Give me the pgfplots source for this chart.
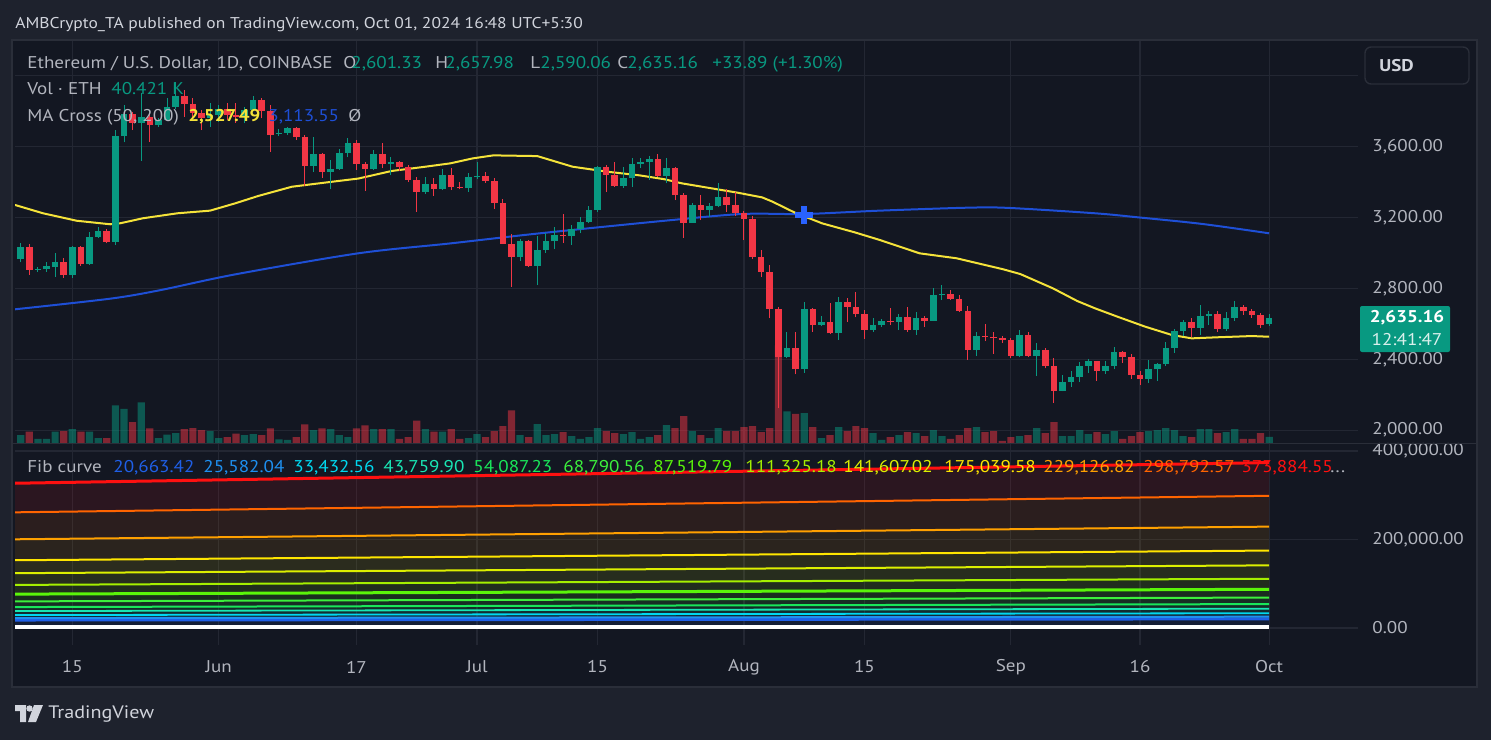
\documentclass[border=0pt]{standalone}
\usepackage{fontspec}
\setmainfont{PT Sans}[FakeStretch=1.12]
\usepackage{pgfplots}
\pgfplotsset{compat=1.18}
\usepackage{pgfplotstable}

\definecolor{bgout}{HTML}{1E222D}
\definecolor{bgin}{HTML}{131722}
\definecolor{gridc}{HTML}{232733}
\definecolor{framec}{HTML}{2A2E39}
\definecolor{txt}{HTML}{B2B5BE}
\definecolor{titlec}{HTML}{D1D4DC}
\definecolor{upc}{HTML}{089981}
\definecolor{dnc}{HTML}{F23645}
\definecolor{ma50}{HTML}{F5E33A}
\definecolor{ma200}{HTML}{1E4FD6}
\definecolor{crossc}{HTML}{2962FF}
\definecolor{f1}{HTML}{1F5FE6}
\definecolor{f2}{HTML}{1E90F0}
\definecolor{f3}{HTML}{00D8F0}
\definecolor{f4}{HTML}{19E6B4}
\definecolor{f5}{HTML}{19E65A}
\definecolor{f6}{HTML}{3CF03C}
\definecolor{f7}{HTML}{5AF50A}
\definecolor{f8}{HTML}{A5F000}
\definecolor{f9}{HTML}{DCF000}
\definecolor{f10}{HTML}{FFE600}
\definecolor{f11}{HTML}{FFA000}
\definecolor{f12}{HTML}{FF6400}
\definecolor{f13}{HTML}{FF1010}

\newcommand{\lbl}{\fontsize{8.5}{10}\selectfont}

% daily candles, ETH/USD, May 9 (i=0) to Oct 1 (i=145); V in thousand ETH
\pgfplotstableread{
i O H L C V
0 2966 3058 2947 3035 52
2 2906 2920 2892 2912 28
3 2907 2950 2894 2926 28
4 2923 2998 2866 2949 72
6 2877 3039 2860 3034 88
8 2939 3116 2934 3090 72
9 3090 3146 3085 3124 34
11 3062 3694 3045 3660 232
12 3660 3835 3624 3785 210
14 3735 3901 3521 3765 250
16 3722 3764 3713 3750 34
17 3750 3877 3745 3826 54
18 3826 3967 3810 3888 64
22 3760 3845 3713 3780 76
23 3780 3835 3740 3815 34
26 3765 3826 3732 3807 52
27 3807 3888 3800 3864 58
30 3672 3698 3660 3680 26
31 3680 3710 3668 3707 22
34 3493 3657 3459 3559 82
36 3459 3525 3359 3474 88
37 3474 3587 3468 3564 52
38 3564 3647 3540 3623 40
41 3474 3581 3468 3559 88
43 3502 3540 3440 3512 88
47 3346 3427 3333 3389 88
49 3363 3472 3355 3438 72
52 3365 3450 3345 3427 34
53 3427 3514 3416 3435 58
58 2979 3079 2957 3066 52
60 2928 3096 2819 3017 118
61 3017 3111 3002 3066 52
62 3066 3145 3022 3101 58
64 3095 3158 3047 3133 46
65 3133 3203 3111 3175 28
66 3175 3265 3167 3243 40
67 3243 3491 3231 3483 94
70 3378 3483 3367 3423 58
71 3423 3536 3374 3502 70
72 3502 3534 3480 3514 28
73 3514 3547 3412 3530 40
75 3435 3536 3393 3478 112
78 3171 3280 3171 3271 76
80 3243 3284 3201 3267 34
81 3267 3393 3258 3316 94
89 2414 2554 2405 2463 196
91 2343 2721 2324 2684 184
93 2593 2644 2588 2608 34
95 2546 2753 2509 2721 100
99 2567 2635 2556 2593 64
100 2593 2627 2584 2617 22
102 2611 2653 2566 2638 52
104 2566 2667 2537 2633 64
106 2618 2800 2615 2763 82
107 2763 2819 2734 2769 46
111 2452 2554 2418 2531 100
116 2418 2565 2410 2537 46
118 2418 2490 2305 2452 94
121 2221 2311 2218 2271 46
122 2271 2334 2245 2300 46
123 2300 2384 2271 2362 82
124 2362 2403 2324 2390 58
126 2334 2390 2317 2362 58
127 2362 2471 2343 2441 76
131 2288 2396 2268 2343 76
132 2343 2381 2279 2373 82
133 2373 2497 2364 2463 94
134 2463 2571 2437 2560 82
135 2560 2620 2531 2610 46
137 2578 2704 2537 2644 88
138 2644 2672 2593 2655 88
140 2571 2667 2561 2633 70
141 2633 2729 2616 2695 88
145 2601.33 2657.98 2590.06 2635.16 40.4
}\uptab

\pgfplotstableread{
i O H L C V
1 3034 3050 2877 2904 72
5 2949 2973 2860 2877 76
7 3034 3041 2928 2939 72
10 3124 3135 3054 3062 34
13 3785 3798 3694 3735 130
15 3765 3785 3628 3722 92
19 3888 3920 3770 3842 88
20 3842 3873 3760 3792 94
21 3792 3807 3694 3760 82
24 3815 3845 3751 3780 40
25 3780 3845 3735 3765 60
28 3864 3877 3760 3803 52
29 3803 3835 3572 3666 92
32 3707 3713 3638 3657 40
33 3657 3666 3378 3493 116
35 3559 3562 3425 3459 92
39 3623 3638 3468 3502 92
40 3502 3512 3352 3474 110
42 3559 3623 3478 3502 88
44 3512 3521 3465 3483 28
45 3483 3497 3400 3412 40
46 3412 3427 3233 3346 140
48 3389 3421 3322 3363 72
50 3438 3478 3355 3371 88
51 3371 3399 3359 3365 28
54 3435 3457 3397 3408 40
55 3408 3423 3250 3284 76
56 3284 3303 3050 3051 106
57 3051 3107 2810 2979 202
59 3066 3073 2923 2928 40
63 3101 3220 3056 3095 70
68 3483 3497 3344 3442 76
69 3442 3514 3374 3378 64
74 3530 3559 3427 3435 52
76 3478 3484 3299 3327 94
77 3327 3337 3086 3171 166
79 3271 3327 3186 3243 52
82 3316 3359 3233 3271 76
83 3271 3344 3209 3228 76
84 3228 3239 3073 3194 100
85 3194 3210 2964 2979 106
86 2979 3015 2863 2894 70
87 2894 2930 2631 2686 94
88 2686 2693 2123 2414 596
90 2463 2554 2315 2343 180
92 2684 2690 2556 2593 100
94 2608 2719 2542 2546 52
96 2721 2744 2612 2697 76
97 2697 2782 2637 2655 106
98 2655 2680 2516 2567 94
101 2617 2691 2593 2611 40
103 2638 2695 2556 2566 70
105 2633 2644 2584 2618 46
108 2769 2791 2734 2742 28
109 2742 2761 2669 2674 52
110 2674 2700 2396 2452 94
112 2531 2599 2503 2525 70
113 2525 2554 2430 2519 76
114 2519 2531 2494 2509 16
115 2509 2518 2405 2418 40
117 2537 2554 2414 2418 52
119 2452 2463 2349 2362 64
120 2362 2407 2155 2221 130
125 2390 2392 2279 2334 70
128 2441 2445 2381 2413 28
129 2413 2429 2290 2311 46
130 2311 2334 2256 2288 70
136 2610 2633 2527 2578 40
139 2655 2672 2556 2571 64
142 2695 2706 2650 2672 28
143 2672 2684 2635 2650 28
144 2650 2661 2578 2593 64
}\dntab

\pgfplotsset{
  pane/.style={scale only axis, anchor=north west, width=671.5pt,
    xmin=-0.66, xmax=155.32, axis line style={draw=none},
    tick style={draw=none}, major tick length=0pt, clip=true},
  gridpane/.style={pane, grid=major,
    major grid style={draw=gridc, line width=0.6pt},
    xtick={6,23,39,53,67,84,98,115,130,145},
    scaled y ticks=false, yticklabel pos=right,
    yticklabel style={anchor=west, xshift=7pt, inner sep=0pt, font=\lbl, text=txt}},
  wick/.style={draw=none, mark=none, forget plot,
    error bars/.cd, y dir=plus, y explicit, error mark=none,
    error bar style={line width=0.5pt, draw=#1}},
  body/.style={draw=none, mark=none, forget plot,
    error bars/.cd, y dir=plus, y explicit, error mark=none,
    error bar style={line width=3.3pt, draw=#1}},
}

\begin{document}
\begin{tikzpicture}
\fill[bgout] (0,0) rectangle (745.5pt,-370pt);
\fill[bgin] (6pt,-20pt) rectangle (738.5pt,-343.5pt);
\draw[framec, line width=1pt] (6pt,-20pt) rectangle (738.5pt,-343.5pt);

% price pane: grid and price scale
\begin{axis}[gridpane, at={(7.5pt,-20.5pt)}, height=201.3pt,
  ymin=1923.7, ymax=4196.7, xticklabels={},
  ytick={2000,2400,2800,3200,3600,4000},
  yticklabels={{2,000.00},{2,400.00},{2,800.00},{3,200.00},{3,600.00},{}}]
\addplot[draw=none] coordinates {(0,3000)};
\end{axis}

% volume overlay
\begin{axis}[pane, hide axis, at={(7.5pt,-20.5pt)}, height=201.3pt,
  ymin=0, ymax=2440]
\addplot[ybar, bar shift=0pt, bar width=3.6pt, fill=upc, fill opacity=0.5, draw=none]
  table[x=i, y=V] {\uptab};
\addplot[ybar, bar shift=0pt, bar width=3.6pt, fill=dnc, fill opacity=0.5, draw=none]
  table[x=i, y=V] {\dntab};
\end{axis}

% candles and moving averages
\begin{axis}[pane, hide axis, at={(7.5pt,-20.5pt)}, height=201.3pt,
  ymin=1923.7, ymax=4196.7]
\addplot[ma200, line width=1pt, smooth] coordinates {
(-0.66,2682) (10.4,2742) (16.2,2790) (24.9,2879) (39.2,2998) (49.9,3054)
(60.3,3111) (74.8,3182) (83.8,3220) (91.1,3220) (99.8,3239) (110.3,3256)
(114.9,3254) (124.8,3224) (129.8,3201) (137.2,3164) (145,3111)};
\addplot[ma50, line width=1pt] coordinates {
(-0.66,3271) (2.6,3224) (6.5,3182) (10.4,3162) (11.5,3167) (14.2,3196)
(18.2,3224) (22.0,3239) (24.9,3280) (27.6,3322) (31.5,3374) (35.3,3397)
(39.2,3420) (43.1,3463) (47.0,3487) (49.9,3506) (52.5,3534) (54.9,3551)
(60.0,3547) (64.1,3487) (68.1,3459) (71.9,3438) (74.8,3416) (76.8,3393)
(79.5,3371) (83.3,3340) (86.1,3314) (87.3,3290) (89.9,3228) (93.1,3167)
(96.9,3116) (99.8,3073) (104.4,2998) (108.7,2970) (114.1,2908) (116.1,2881)
(119.9,2800) (122.7,2729) (124.8,2687) (127.4,2640) (130.6,2584) (133.7,2537)
(136.0,2518) (139.0,2524) (143.0,2531) (145,2527)};
\addplot[wick=upc] table[x=i, y=L, y error plus expr=\thisrow{H}-\thisrow{L}] {\uptab};
\addplot[wick=dnc] table[x=i, y=L, y error plus expr=\thisrow{H}-\thisrow{L}] {\dntab};
\addplot[body=upc] table[x=i, y=O, y error plus expr=\thisrow{C}-\thisrow{O}] {\uptab};
\addplot[body=dnc] table[x=i, y=C, y error plus expr=\thisrow{O}-\thisrow{C}] {\dntab};
\addplot[only marks, mark=+, mark size=4.5pt, crossc, mark options={line width=3pt}]
  coordinates {(91,3214)};
\end{axis}

% Fib curve pane
\begin{axis}[gridpane, at={(7.5pt,-221.8pt)}, height=100.7pt,
  ymin=-38418, ymax=416723,
  ytick={0,200000,400000}, yticklabels={{0.00},{200,000.00},{400,000.00}},
  xticklabels={15,Jun,17,Jul,15,Aug,15,Sep,16,Oct},
  xticklabel style={anchor=center, yshift=-11pt, inner sep=0pt, font=\lbl, text=txt}]
\addplot[draw=none, fill=f13, fill opacity=0.1] coordinates {(-0.66,327149) (145,373885) (145,298793) (-0.66,261444)} --cycle;
\addplot[draw=none, fill=f12, fill opacity=0.1] coordinates {(-0.66,261444) (145,298793) (145,229127) (-0.66,200486)} --cycle;
\addplot[draw=none, fill=f11, fill opacity=0.1] coordinates {(-0.66,200486) (145,229127) (145,175040) (-0.66,153160)} --cycle;
\addplot[draw=none, fill=f10, fill opacity=0.1] coordinates {(-0.66,153160) (145,175040) (145,141607) (-0.66,123906)} --cycle;
\addplot[draw=none, fill=f9, fill opacity=0.1] coordinates {(-0.66,123906) (145,141607) (145,111325) (-0.66,97409)} --cycle;
\addplot[draw=none, fill=f8, fill opacity=0.1] coordinates {(-0.66,97409) (145,111325) (145,87520) (-0.66,76580)} --cycle;
\addplot[draw=none, fill=f7, fill opacity=0.1] coordinates {(-0.66,76580) (145,87520) (145,68791) (-0.66,60192)} --cycle;
\addplot[draw=none, fill=f6, fill opacity=0.1] coordinates {(-0.66,60192) (145,68791) (145,54087) (-0.66,47326)} --cycle;
\addplot[draw=none, fill=f5, fill opacity=0.1] coordinates {(-0.66,47326) (145,54087) (145,43760) (-0.66,38290)} --cycle;
\addplot[draw=none, fill=f4, fill opacity=0.1] coordinates {(-0.66,38290) (145,43760) (145,33433) (-0.66,29253)} --cycle;
\addplot[draw=none, fill=f3, fill opacity=0.1] coordinates {(-0.66,29253) (145,33433) (145,25582) (-0.66,22384)} --cycle;
\addplot[draw=none, fill=f2, fill opacity=0.1] coordinates {(-0.66,22384) (145,25582) (145,20663) (-0.66,18080)} --cycle;
\addplot[draw=none, fill=f1, fill opacity=0.1] coordinates {(-0.66,18080) (145,20663) (145,2500) (-0.66,2500)} --cycle;
\addplot[white, line width=2pt] coordinates {(-0.66,2500) (145,2500)};
\addplot[f1, line width=1.5pt] coordinates {(-0.66,18080) (145,20663)};
\addplot[f2, line width=1pt] coordinates {(-0.66,22384) (145,25582)};
\addplot[f3, line width=0.9pt] coordinates {(-0.66,29253) (145,33433)};
\addplot[f4, line width=0.9pt] coordinates {(-0.66,38290) (145,43760)};
\addplot[f5, line width=1pt] coordinates {(-0.66,47326) (145,54087)};
\addplot[f6, line width=1pt] coordinates {(-0.66,60192) (145,68791)};
\addplot[f7, line width=1.5pt] coordinates {(-0.66,76580) (145,87520)};
\addplot[f8, line width=1pt] coordinates {(-0.66,97409) (145,111325)};
\addplot[f9, line width=1pt] coordinates {(-0.66,123906) (145,141607)};
\addplot[f10, line width=1pt] coordinates {(-0.66,153160) (145,175040)};
\addplot[f11, line width=1pt] coordinates {(-0.66,200486) (145,229127)};
\addplot[f12, line width=1pt] coordinates {(-0.66,261444) (145,298793)};
\addplot[f13, line width=1.5pt] coordinates {(-0.66,327149) (145,373885)};
\end{axis}

\draw[framec, line width=0.8pt] (6pt,-221.8pt) -- (738.5pt,-221.8pt);

% title and legends
\node[anchor=base west, inner sep=0, text=titlec, font=\fontsize{7.8}{9}\selectfont]
  at (7.5pt,-14pt) {AMBCrypto\_TA published on TradingView.com, Oct 01, 2024 16:48 UTC+5:30};
\begin{scope}[every node/.style={anchor=base west, inner sep=0, font=\lbl}]
\node[text=txt] at (13.5pt,-34.25pt) {Ethereum / U.S. Dollar, 1D, COINBASE};
\node[text=txt] at (171.5pt,-34.25pt) {O};
\node[text=upc] at (175.5pt,-34.25pt) {2,601.33};
\node[text=txt] at (217.5pt,-34.25pt) {H};
\node[text=upc] at (222.5pt,-34.25pt) {2,657.98};
\node[text=txt] at (265pt,-34.25pt) {L};
\node[text=upc] at (270pt,-34.25pt) {2,590.06};
\node[text=txt] at (308.5pt,-34.25pt) {C};
\node[text=upc] at (313.5pt,-34.25pt) {2,635.16};
\node[text=upc] at (356pt,-34.25pt) {+33.89 (+1.30\%)};
\node[text=txt] at (13.5pt,-47.25pt) {Vol · ETH};
\node[text=upc] at (55.5pt,-47.25pt) {40.421 K};
\node[text=txt] at (13.5pt,-60.75pt) {MA Cross (50, 200)};
\node[text=ma50, font=\lbl\bfseries] at (94pt,-60.75pt) {2,527.49};
\node[text=ma200] at (134pt,-60.75pt) {3,113.55};
\node[text=txt] at (174pt,-60.75pt) {Ø};
\node[text=txt] at (13.5pt,-236.25pt) {Fib curve};
\node[text=f1] at (56.5pt,-236.25pt) {20,663.42};
\node[text=f2] at (101.5pt,-236.25pt) {25,582.04};
\node[text=f3] at (146.5pt,-236.25pt) {33,432.56};
\node[text=f4] at (191.5pt,-236.25pt) {43,759.90};
\node[text=f5] at (236.5pt,-236.25pt) {54,087.23};
\node[text=f6] at (281.5pt,-236.25pt) {68,790.56};
\node[text=f7] at (326.5pt,-236.25pt) {87,519.79};
\node[text=f8] at (372.5pt,-236.25pt) {111,325.18};
\node[text=f9] at (421.5pt,-236.25pt) {141,607.02};
\node[text=f10] at (472pt,-236.25pt) {175,039.58};
\node[text=f11] at (521.5pt,-236.25pt) {229,126.82};
\node[text=f12] at (571.5pt,-236.25pt) {298,792.57};
\node[text=f13] at (620.5pt,-236.25pt) {373,884.55};
\node[text=txt] at (665pt,-236.25pt) {...};
\end{scope}

% currency button and last price tag
\draw[rounded corners=3pt, draw=framec, fill=bgin, line width=0.7pt] (682.5pt,-23.5pt) rectangle (734.5pt,-42pt);
\node[anchor=west, inner sep=0, text=titlec, font=\lbl\bfseries] at (689.5pt,-32.75pt) {USD};
\fill[upc, rounded corners=1pt] (680pt,-153pt) rectangle (725pt,-176pt);
\node[anchor=center, inner sep=0, text=white, font=\lbl\bfseries] at (703.5pt,-159pt) {2,635.16};
\node[anchor=center, inner sep=0, text=white!85!upc, font=\lbl] at (703.5pt,-170pt) {12:41:47};

% TradingView logo
\fill[titlec] (7.5pt,-352.5pt) -- (13pt,-352.5pt) -- (13pt,-361pt) -- (10pt,-361pt) -- (10pt,-355.5pt) -- (7.5pt,-355.5pt) -- cycle;
\fill[titlec] (14.75pt,-354.25pt) circle (1.6pt);
\fill[titlec] (17pt,-352.5pt) -- (21.5pt,-352.5pt) -- (18pt,-361pt) -- (14pt,-361pt) -- cycle;
\node[anchor=west, inner sep=0, text=titlec, font=\fontsize{9}{10}\selectfont] at (24pt,-357pt) {TradingView};

\pgfresetboundingbox
\useasboundingbox (0,0) rectangle (745.5pt,-370pt);
\end{tikzpicture}
\end{document}
